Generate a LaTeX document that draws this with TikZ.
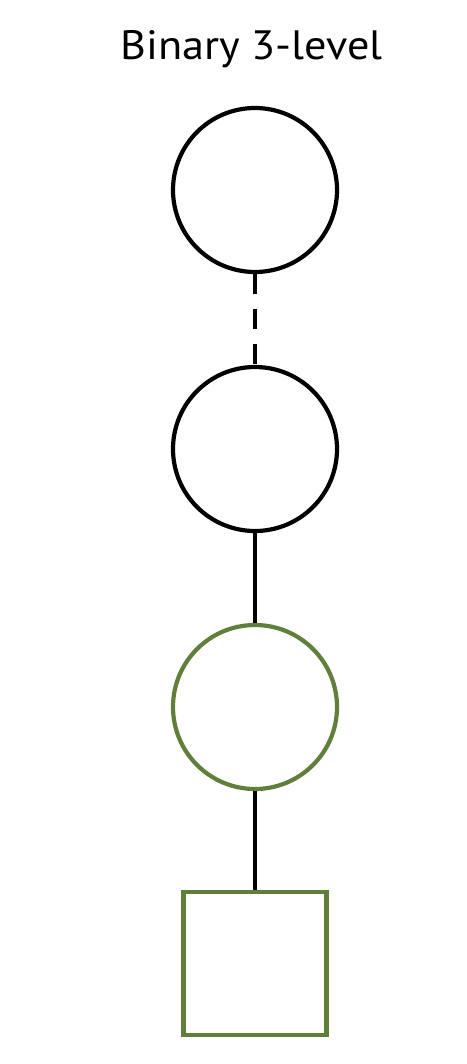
\documentclass[tikz,border=0pt]{standalone}
\usepackage{fontspec}
\setmainfont{PT Sans}
\definecolor{leaf}{RGB}{95,127,58}
\begin{document}
\begin{tikzpicture}[x=1pt,y=-1pt,
  ring/.style={circle,draw=black,line width=4.2pt,minimum size=164pt,inner sep=0pt},
  greenring/.style={ring,draw=leaf},
  greenbox/.style={rectangle,draw=leaf,line width=4.2pt,minimum size=143pt,inner sep=0pt},
  link/.style={line width=4.2pt,draw=black},
  dashlink/.style={link,dash pattern=on 20pt off 15pt}]
\useasboundingbox (0,0) rectangle (466,1064);
\node[font=\fontsize{41}{48}\selectfont,anchor=base,inner sep=0pt,xscale=1.08] (title) at (251.5,60) {Binary 3-level};
\node[ring] (n1) at (255,190) {};
\node[ring] (n2) at (255,449) {};
\node[greenring] (n3) at (255,707) {};
\node[greenbox] (sq) at (255,963.5) {};
\draw[dashlink] (n1.south) -- (n2.north);
\draw[link] (n2.south) -- (n3.north);
\draw[link] (n3.south) -- (sq.north);
\end{tikzpicture}
\end{document}
